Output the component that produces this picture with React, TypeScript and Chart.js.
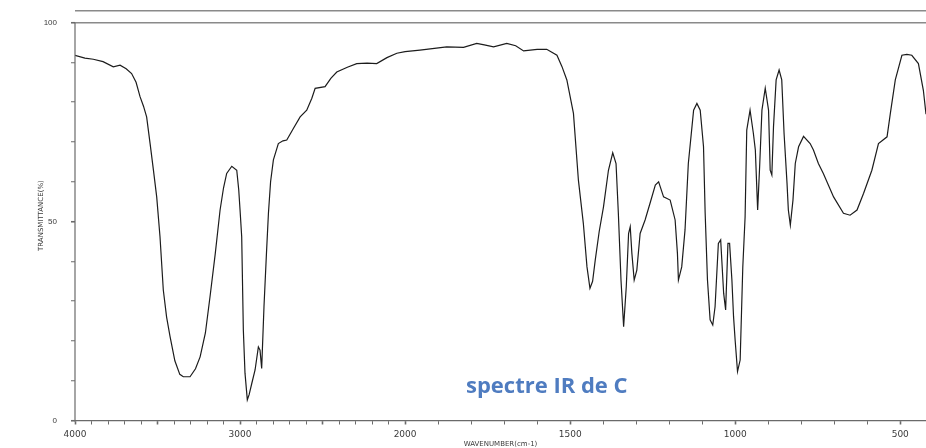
import React, { useEffect, useRef } from "react";
import { Chart, registerables } from "chart.js";

Chart.register(...registerables);

// Wavenumbers (cm-1)
const WAVENUMBERS = [
  4000, 3940, 3889, 3830, 3768, 3727, 3690, 3657, 3630, 3606, 3585, 3566, 3545, 3525, 3505, 3485,
  3465, 3445, 3424, 3395, 3365, 3344, 3303, 3270, 3242, 3210, 3182, 3150, 3121, 3100, 3081, 3050,
  3020, 3008, 3000, 2990, 2980, 2970, 2956, 2945, 2929, 2909, 2889, 2879, 2869, 2855, 2840, 2828,
  2815, 2798, 2768, 2740, 2717, 2677, 2636, 2596, 2565, 2545, 2485, 2450, 2414, 2350, 2293, 2230,
  2172, 2110, 2050, 2000, 1955, 1874, 1823, 1783, 1760, 1732, 1692, 1665, 1641, 1600, 1571, 1540,
  1525, 1510, 1490, 1475, 1460, 1449, 1440, 1432, 1424, 1412, 1399, 1384, 1371, 1361, 1354, 1346,
  1338, 1330, 1323, 1318, 1313, 1306, 1298, 1288, 1273, 1258, 1242, 1232, 1217, 1197, 1182, 1175,
  1172, 1162, 1152, 1142, 1126, 1116, 1106, 1096, 1091, 1084, 1076, 1068, 1061, 1051, 1044, 1035,
  1029, 1022, 1017, 1010, 1005, 1000, 993, 985, 977, 970, 965, 955, 945, 939, 932, 926,
  919, 909, 899, 894, 889, 884, 876, 867, 859, 852, 843, 839, 833, 825, 818, 808,
  793, 773, 763, 748, 733, 702, 672, 652, 631, 611, 586, 566, 540, 530, 515, 495,
  480, 465, 445, 430, 422,
];

// Transmittance (%) at each wavenumber
const TRANSMITTANCE = [
  91.8, 91.1, 90.8, 90.2, 88.9, 89.3, 88.4, 87.2, 85.0, 81.4, 79.0, 76.3, 69.6, 63.0, 56.2, 46.2,
  32.8, 26.0, 21.1, 15.0, 11.6, 11.0, 11.0, 13.0, 16.0, 22.0, 31.1, 42.0, 52.9, 58.5, 62.1, 63.9,
  62.9, 58.0, 52.9, 46.2, 22.7, 11.9, 5.2, 6.5, 9.3, 12.7, 18.5, 17.7, 13.1, 28.6, 42.0, 52.1,
  60.0, 65.5, 69.6, 70.3, 70.5, 73.4, 76.3, 78.0, 81.0, 83.5, 83.9, 86.0, 87.6, 88.8, 89.7, 89.8,
  89.7, 91.2, 92.3, 92.7, 93.1, 93.9, 93.8, 94.8, 94.4, 93.9, 94.8, 94.2, 92.9, 93.3, 93.3, 91.8,
  89.0, 85.6, 77.2, 60.4, 49.5, 38.6, 33.2, 35.0, 40.3, 47.5, 53.7, 62.9, 67.3, 64.6, 52.1, 35.3,
  23.6, 33.6, 47.0, 48.7, 42.0, 35.3, 37.8, 47.0, 50.4, 54.6, 59.2, 60.0, 56.2, 55.4, 50.4, 42.0,
  35.3, 38.6, 47.9, 64.6, 78.0, 79.7, 78.0, 68.8, 52.1, 35.3, 25.3, 24.0, 28.6, 44.5, 45.4, 32.0,
  27.8, 44.5, 44.5, 35.3, 26.1, 20.0, 12.3, 15.2, 38.6, 51.2, 73.0, 78.0, 72.2, 68.0, 52.9, 63.8,
  78.0, 83.5, 78.0, 62.9, 61.7, 73.8, 85.6, 88.1, 85.6, 72.2, 59.6, 52.9, 49.1, 55.4, 64.6, 68.8,
  71.4, 69.6, 68.0, 64.6, 62.1, 56.2, 52.1, 51.6, 52.9, 57.1, 62.9, 69.6, 71.3, 77.2, 85.6, 91.8,
  92.0, 91.8, 89.7, 83.0, 77.0,
];

const X_TICK_LABELS = [4000, 3000, 2000, 1500, 1000, 500];
const X_MINOR_TICKS_FROM = 4000;
const X_MINOR_TICKS_TO = 500;
const X_MINOR_STEP = 100;
const X_END = 422;
const Y_TICK_LABELS = [0, 50, 100];
const Y_MINOR_STEP = 10;
const Y_MAX = 103;
const X_TITLE = "WAVENUMBER(cm-1)";
const Y_TITLE = "TRANSMITTANCE(%)";
const ANNOTATION = "spectre IR de C";

// The instrument's x scale is compressed by 2 above 2000 cm-1
const BREAK = 2000;
const toAxis = (w: number) => (w <= BREAK ? w : BREAK + (w - BREAK) / 2);
const fromAxis = (u: number) => (u <= BREAK ? u : BREAK + (u - BREAK) * 2);

const AXIS_COLOR = "#6a6a6a";
const TEXT_COLOR = "#3a3a3a";

export default function App() {
  const canvasRef = useRef<HTMLCanvasElement | null>(null);

  useEffect(() => {
    const canvas = canvasRef.current;
    if (!canvas) return;

    const points = WAVENUMBERS.map((w, i) => ({ x: toAxis(w), y: TRANSMITTANCE[i] }));

    const decor = {
      id: "decor",
      afterDraw(chart: any) {
        const { ctx } = chart;
        const y = chart.scales.y;
        const area = chart.chartArea;
        ctx.save();
        ctx.strokeStyle = AXIS_COLOR;
        ctx.lineWidth = 1.2;
        ctx.beginPath();
        ctx.moveTo(area.left, y.getPixelForValue(0));
        ctx.lineTo(area.left, y.getPixelForValue(100));
        ctx.stroke();
        ctx.fillStyle = "#4f7cc0";
        ctx.font = "bold 22px 'Open Sans', 'Noto Sans', sans-serif";
        ctx.textAlign = "left";
        ctx.textBaseline = "alphabetic";
        ctx.fillText(ANNOTATION, 466, 393);
        ctx.restore();
      },
    };

    const chart = new Chart(canvas, {
      type: "line",
      data: {
        datasets: [
          {
            data: points,
            borderColor: "#1c1c1c",
            borderWidth: 1.2,
            pointRadius: 0,
            tension: 0,
            fill: false,
          },
        ],
      },
      options: {
        animation: false,
        responsive: false,
        devicePixelRatio: 1,
        layout: { padding: { left: 35, top: 10.7, right: 0, bottom: 0 } },
        plugins: {
          legend: { display: false },
          tooltip: { enabled: false },
        },
        scales: {
          x: {
            type: "linear",
            reverse: true,
            min: toAxis(X_END),
            max: toAxis(X_MINOR_TICKS_FROM),
            afterBuildTicks(scale: any) {
              const t: { value: number }[] = [];
              for (let w = X_MINOR_TICKS_TO; w <= X_MINOR_TICKS_FROM; w += X_MINOR_STEP) {
                t.push({ value: toAxis(w) });
              }
              scale.ticks = t;
            },
            afterFit(scale: any) {
              scale.height = 27.5;
              scale.paddingLeft = 0;
              scale.paddingRight = 0;
            },
            ticks: {
              autoSkip: false,
              maxRotation: 0,
              padding: 5,
              color: TEXT_COLOR,
              font: { size: 9, family: "'DejaVu Sans', sans-serif" },
              callback(value: any) {
                const w = Math.round(fromAxis(Number(value)));
                return X_TICK_LABELS.includes(w) ? String(w) : "";
              },
            },
            grid: {
              drawOnChartArea: false,
              drawTicks: true,
              tickLength: 4,
              tickColor: AXIS_COLOR,
              tickWidth: (ctx: any) => {
                const w = Math.round(fromAxis(ctx.tick ? ctx.tick.value : 0));
                return w % 500 === 0 ? 1.6 : 1;
              },
            },
            border: { display: true, color: AXIS_COLOR, width: 1.2 },
            title: {
              display: true,
              text: X_TITLE,
              color: TEXT_COLOR,
              font: { size: 7, family: "'DejaVu Sans', sans-serif" },
              padding: { top: 0, bottom: 0 },
            },
          },
          y: {
            type: "linear",
            min: 0,
            max: Y_MAX,
            afterBuildTicks(scale: any) {
              const t: { value: number }[] = [];
              for (let v = 0; v <= 100; v += Y_MINOR_STEP) t.push({ value: v });
              t.push({ value: Y_MAX });
              scale.ticks = t;
            },
            afterFit(scale: any) {
              scale.width = 40;
              scale.paddingTop = 0;
              scale.paddingBottom = 0;
            },
            ticks: {
              autoSkip: false,
              padding: 14,
              color: TEXT_COLOR,
              font: { size: 8, family: "'Liberation Sans', Arial, sans-serif" },
              callback(value: any) {
                const v = Number(value);
                return Y_TICK_LABELS.includes(v) ? String(v) : "";
              },
            },
            grid: {
              drawOnChartArea: true,
              drawTicks: true,
              tickLength: 4,
              lineWidth: 1.5,
              color: (ctx: any) => {
                const v = ctx.tick ? ctx.tick.value : -1;
                return v === 100 || v === Y_MAX ? "#8a8a8a" : "rgba(0,0,0,0)";
              },
              tickColor: (ctx: any) => {
                const v = ctx.tick ? ctx.tick.value : -1;
                return v === Y_MAX ? "rgba(0,0,0,0)" : AXIS_COLOR;
              },
              tickWidth: (ctx: any) => {
                const v = ctx.tick ? ctx.tick.value : -1;
                return v % 50 === 0 ? 1.6 : 1;
              },
            },
            border: { display: false },
            title: {
              display: true,
              text: Y_TITLE,
              color: TEXT_COLOR,
              font: { size: 7, family: "'DejaVu Sans', sans-serif" },
              padding: { top: 2, bottom: 0 },
            },
          },
        },
      },
      plugins: [decor],
    } as any);

    return () => chart.destroy();
  }, []);

  return (
    <div style={{ position: "absolute", left: 0, top: 0, width: 926, height: 448, background: "#fff" }}>
      <canvas ref={canvasRef} width={926} height={448} style={{ display: "block" }} />
    </div>
  );
}
